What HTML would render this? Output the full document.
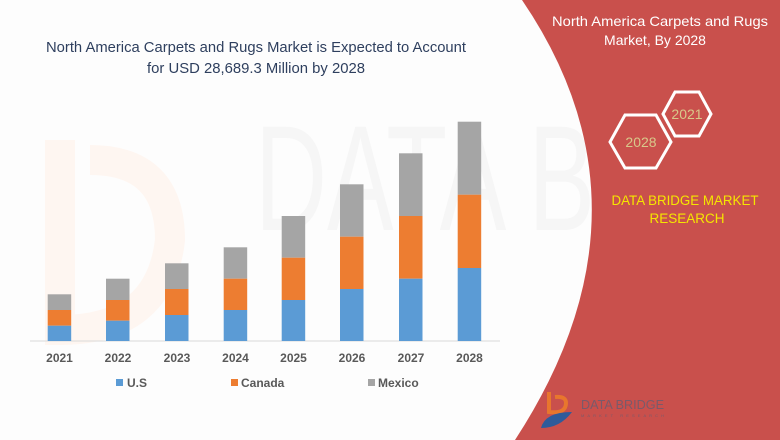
<!DOCTYPE html>
<html><head><meta charset="utf-8"><style>
html,body{margin:0;padding:0;background:#fff}
svg{display:block}
text{font-family:"Liberation Sans",sans-serif}
</style></head><body>
<svg width="780" height="440" viewBox="0 0 780 440" xmlns="http://www.w3.org/2000/svg">
<rect width="780" height="440" fill="#fdfdfd"/>
<!-- faint watermark -->
<text x="255" y="230" font-size="150" fill="#f6f6f6" textLength="340" lengthAdjust="spacingAndGlyphs">DATA B</text>
<path d="M60,140 L60,330 Q160,330 170,240 Q170,160 90,160" fill="none" stroke="#fef6f1" stroke-width="30"/>
<!-- red panel -->
<path d="M522,0 Q665,210 515,440 L780,440 L780,0 Z" fill="#c9504c"/>
<text x="660" y="26" font-size="14" fill="#fff" text-anchor="middle" textLength="216" lengthAdjust="spacingAndGlyphs">North America Carpets and Rugs</text>
<text x="655" y="45" font-size="14" fill="#fff" text-anchor="middle">Market, By 2028</text>
<polygon points="663,114 675,92 699,92 711,114 699,136 675,136" fill="none" stroke="#fff" stroke-width="3"/>
<text x="687" y="119" font-size="14" fill="#d8c88a" text-anchor="middle">2021</text>
<polygon points="610,142 625,115 656,115 671,142 656,168 625,168" fill="none" stroke="#fff" stroke-width="3"/>
<text x="641" y="147" font-size="14" fill="#d8c88a" text-anchor="middle">2028</text>
<text x="685" y="205" font-size="13.5" fill="#f5e600" text-anchor="middle" textLength="147" lengthAdjust="spacingAndGlyphs">DATA BRIDGE MARKET</text>
<text x="687" y="223" font-size="13.5" fill="#f5e600" text-anchor="middle">RESEARCH</text>
<!-- logo -->
<path d="M549,392 L549,412 Q566,414 566,403 Q566,396 555,397" fill="none" stroke="#e8762d" stroke-width="4"/>
<path d="M541,428 Q545,412 572,412 Q560,428 541,428 Z" fill="#2f5b9a"/>
<text x="581" y="409" font-size="13" fill="#7a5a6a" textLength="83" lengthAdjust="spacingAndGlyphs">DATA BRIDGE</text>
<text x="581" y="417" font-size="4" fill="#7a5a6a" textLength="83" lengthAdjust="spacing">MARKET RESEARCH</text>
<!-- title -->
<text x="256" y="52" font-size="15" fill="#2e3f5e" text-anchor="middle" textLength="420" lengthAdjust="spacingAndGlyphs">North America Carpets and Rugs Market is Expected to Account</text>
<text x="256" y="73" font-size="15" fill="#2e3f5e" text-anchor="middle" textLength="218" lengthAdjust="spacingAndGlyphs">for USD 28,689.3 Million by 2028</text>
<!-- axis -->
<line x1="30" y1="341" x2="500" y2="341" fill="none" stroke="#d9d9d9" stroke-width="1"/>
<g>
<rect x="47.7" y="294.3" width="23.5" height="15.7" fill="#a5a5a5"/><rect x="47.7" y="310" width="23.5" height="15.7" fill="#ed7d31"/><rect x="47.7" y="325.7" width="23.5" height="15.3" fill="#5b9bd5"/>
<rect x="106" y="278.7" width="23.5" height="21.3" fill="#a5a5a5"/><rect x="106" y="300" width="23.5" height="20.7" fill="#ed7d31"/><rect x="106" y="320.7" width="23.5" height="20.3" fill="#5b9bd5"/>
<rect x="165" y="263.3" width="23.5" height="25.7" fill="#a5a5a5"/><rect x="165" y="289" width="23.5" height="26" fill="#ed7d31"/><rect x="165" y="315" width="23.5" height="26" fill="#5b9bd5"/>
<rect x="223.7" y="247.3" width="23.5" height="31.4" fill="#a5a5a5"/><rect x="223.7" y="278.7" width="23.5" height="31.3" fill="#ed7d31"/><rect x="223.7" y="310" width="23.5" height="31" fill="#5b9bd5"/>
<rect x="281.7" y="216" width="23.5" height="41.7" fill="#a5a5a5"/><rect x="281.7" y="257.7" width="23.5" height="42.3" fill="#ed7d31"/><rect x="281.7" y="300" width="23.5" height="41" fill="#5b9bd5"/>
<rect x="340" y="184.3" width="23.5" height="52.4" fill="#a5a5a5"/><rect x="340" y="236.7" width="23.5" height="52.3" fill="#ed7d31"/><rect x="340" y="289" width="23.5" height="52" fill="#5b9bd5"/>
<rect x="399" y="153.3" width="23.5" height="62.7" fill="#a5a5a5"/><rect x="399" y="216" width="23.5" height="62.7" fill="#ed7d31"/><rect x="399" y="278.7" width="23.5" height="62.3" fill="#5b9bd5"/>
<rect x="457.7" y="121.7" width="23.5" height="73" fill="#a5a5a5"/><rect x="457.7" y="194.7" width="23.5" height="73.3" fill="#ed7d31"/><rect x="457.7" y="268" width="23.5" height="73" fill="#5b9bd5"/>
</g>
<g font-size="12" font-weight="bold" fill="#595959" text-anchor="middle">
<text x="59.5" y="362">2021</text><text x="118" y="362">2022</text><text x="177" y="362">2023</text><text x="235.5" y="362">2024</text>
<text x="293.5" y="362">2025</text><text x="352" y="362">2026</text><text x="411" y="362">2027</text><text x="469.5" y="362">2028</text>
</g>
<g font-size="12" font-weight="bold" fill="#595959">
<rect x="116" y="379" width="7" height="7" fill="#5b9bd5"/><text x="127" y="387">U.S</text>
<rect x="231" y="379" width="7" height="7" fill="#ed7d31"/><text x="241" y="387">Canada</text>
<rect x="368" y="379" width="7" height="7" fill="#a5a5a5"/><text x="378" y="387">Mexico</text>
</g>
</svg>
</body></html>
